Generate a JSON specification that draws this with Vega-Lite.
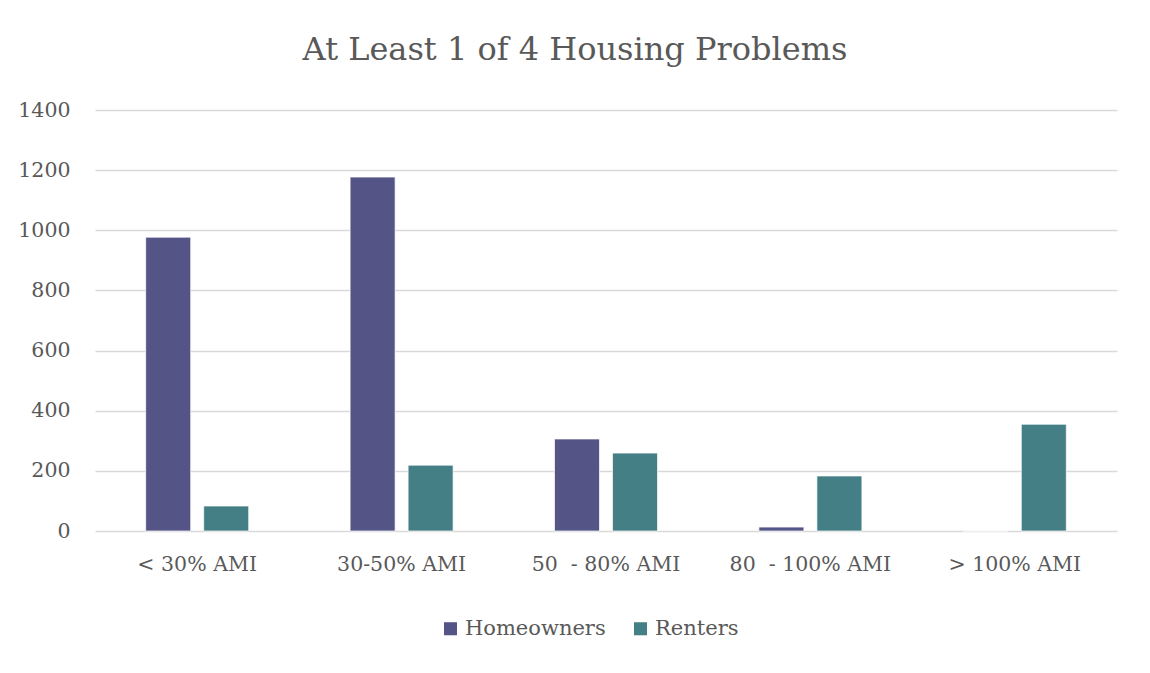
{
  "$schema": "https://vega.github.io/schema/vega-lite/v6.json",
  "width": 1022,
  "height": 421,
  "autosize": {"type": "none"},
  "padding": {"left": 95, "top": 110, "right": 33, "bottom": 142},
  "background": "white",
  "title": {
    "text": "At Least 1 of 4 Housing Problems",
    "font": "DejaVu Serif",
    "fontSize": 32,
    "fontWeight": "normal",
    "color": "#595959",
    "anchor": "middle",
    "offset": 33,
    "dx": -31
  },
  "data": {
    "values": [
      {"cat": "< 30% AMI", "group": "Homeowners", "value": 977},
      {"cat": "< 30% AMI", "group": "Renters", "value": 83},
      {"cat": "30-50% AMI", "group": "Homeowners", "value": 1177},
      {"cat": "30-50% AMI", "group": "Renters", "value": 219},
      {"cat": "50\u00a0 - 80% AMI", "group": "Homeowners", "value": 306},
      {"cat": "50\u00a0 - 80% AMI", "group": "Renters", "value": 259},
      {"cat": "80\u00a0 - 100% AMI", "group": "Homeowners", "value": 13},
      {"cat": "80\u00a0 - 100% AMI", "group": "Renters", "value": 183},
      {"cat": "> 100% AMI", "group": "Homeowners", "value": 0},
      {"cat": "> 100% AMI", "group": "Renters", "value": 355}
    ]
  },
  "mark": {"type": "bar", "stroke": "white", "strokeWidth": 0.7},
  "encoding": {
    "x": {
      "field": "cat",
      "type": "nominal",
      "sort": null,
      "scale": {"paddingInner": 0, "paddingOuter": 0},
      "axis": {
        "title": null,
        "labelAngle": 0,
        "ticks": false,
        "domain": false,
        "labelFont": "DejaVu Serif",
        "labelFontSize": 20.5,
        "labelColor": "#595959",
        "labelPadding": 23
      }
    },
    "xOffset": {
      "field": "group",
      "type": "nominal",
      "scale": {"paddingInner": 0.224, "paddingOuter": 0.874}
    },
    "y": {
      "field": "value",
      "type": "quantitative",
      "scale": {"domain": [0, 1400], "nice": false},
      "axis": {
        "title": null,
        "values": [0, 200, 400, 600, 800, 1000, 1200, 1400],
        "format": "d",
        "ticks": false,
        "domain": false,
        "gridColor": "#d9d9d9",
        "gridWidth": 1.5,
        "labelFont": "DejaVu Serif",
        "labelFontSize": 20.5,
        "labelColor": "#595959",
        "labelPadding": 25
      }
    },
    "color": {
      "field": "group",
      "type": "nominal",
      "scale": {"domain": ["Homeowners", "Renters"], "range": ["#545487", "#437F84"]},
      "legend": {
        "title": null,
        "orient": "none",
        "legendX": 345,
        "legendY": 508,
        "direction": "horizontal",
        "symbolType": "square",
        "symbolSize": 170,
        "symbolStrokeWidth": 0,
        "labelFont": "DejaVu Serif",
        "labelFontSize": 21,
        "labelColor": "#595959",
        "labelOffset": 4,
        "columnPadding": 24
      }
    }
  },
  "config": {
    "view": {"stroke": null}
  }
}
